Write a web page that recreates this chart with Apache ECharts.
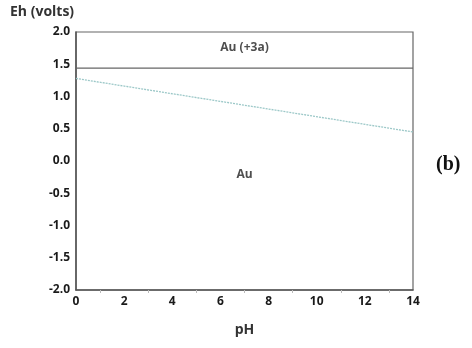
<!DOCTYPE html>
<html><head><meta charset="utf-8">
<script src="https://cdn.jsdelivr.net/npm/echarts@6/dist/echarts.min.js"></script>
<style>html,body{margin:0;padding:0;background:#fff}#c{width:472px;height:348px}</style>
</head><body><div id="c"></div>
<script>
var phRange = [0, 14];
var ehTicks = [-2.0, -1.5, -1.0, -0.5, 0.0, 0.5, 1.0, 1.5, 2.0];
var boundaryPH = [0, 14];
var boundaryEh = [1.44, 1.44];
var waterPH = [0, 14];
var waterEh = [1.28, 0.45];
var regionLabels = ['Au (+3a)', 'Au'];
var regionPH = [7, 7];
var regionEh = [1.76, -0.21];

var font = '"Open Sans", "Liberation Sans", sans-serif';
var chart = echarts.init(document.getElementById('c'));
chart.setOption({
  animation: false,
  grid: {left: 76, right: 59, top: 32, bottom: 58},
  xAxis: {
    type: 'value', min: phRange[0], max: phRange[1], interval: 2,
    axisLine: {onZero: false, lineStyle: {color: '#555', width: 1.5}},
    axisTick: {show: false},
    minorTick: {show: true, splitNumber: 2, length: 3, lineStyle: {color: '#bbb'}},
    splitLine: {show: false},
    axisLabel: {color: '#1a1a1a', fontWeight: 'bold', fontSize: 12, fontFamily: font, margin: 6},
    name: 'pH', nameLocation: 'middle', nameGap: 33,
    nameTextStyle: {color: '#333', fontSize: 14, fontWeight: 'bold', fontFamily: font}
  },
  yAxis: {
    type: 'value', min: ehTicks[0], max: ehTicks[ehTicks.length - 1], interval: 0.5,
    axisLine: {show: true, onZero: false, lineStyle: {color: '#555', width: 1.5}},
    axisTick: {show: false},
    splitLine: {show: false},
    axisLabel: {color: '#1a1a1a', fontWeight: 'bold', fontSize: 12, fontFamily: font, margin: 6,
      formatter: function (v) { return v.toFixed(1); }}
  },
  graphic: [
    {type: 'rect', shape: {x: 76, y: 32, width: 337, height: 258}, style: {fill: 'none', stroke: '#666', lineWidth: 1.2}, silent: true},
    {type: 'text', left: 10, top: 5, style: {text: 'Eh (volts)', font: 'bold 14px ' + font, fill: '#333'}},
    {type: 'text', left: 436, top: 155, style: {text: '(b)', font: 'bold 20px "Liberation Serif", "DejaVu Serif", serif', fill: '#111'}}
  ],
  series: [
    {type: 'line', data: boundaryPH.map(function (x, i) { return [x, boundaryEh[i]]; }),
      symbol: 'none', lineStyle: {color: '#666', width: 1.2}},
    {type: 'line', data: waterPH.map(function (x, i) { return [x, waterEh[i]]; }),
      symbol: 'none', lineStyle: {color: '#9cc8c8', width: 1.3, type: [2, 1]}},
    {type: 'scatter', symbolSize: 0,
      data: regionLabels.map(function (t, i) { return {value: [regionPH[i], regionEh[i]], name: t}; }),
      label: {show: true, position: 'inside', formatter: '{b}', color: '#222', fontWeight: 'bold', fontSize: 12, fontFamily: font}}
  ]
});
</script></body></html>
